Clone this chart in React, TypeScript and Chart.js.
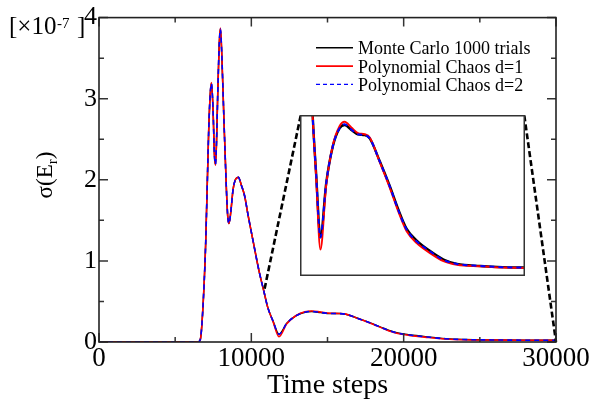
import React, { useEffect, useRef } from "react";
import { Chart, registerables } from "chart.js";

Chart.register(...registerables);

// ---------------- data ----------------
const steps = [
  0, 6000, 6500, 6650, 6800, 7000, 7200, 7300, 7380, 7480, 7580, 7650, 7720,
  7800, 7900, 7970, 8050, 8200, 8360, 8450, 8530, 8650, 8800, 8950, 9150, 9350,
  9560, 9800, 10110, 10500, 10830, 11073, 11431, 11816, 12326, 12916, 13515,
  13962, 14562, 15152, 15751, 16198, 17093, 17988, 18730, 19482, 20376, 21565,
  22755, 23953, 26037, 28000, 30000,
];
const monteCarlo = [
  0, 0, 0, 0.03, 0.35, 1.2, 2.6, 3.05, 3.19, 2.9, 2.3, 2.19, 2.5, 3.1, 3.7,
  3.86, 3.6, 2.75, 1.9, 1.55, 1.46, 1.6, 1.88, 2.0, 2.03, 1.93, 1.8, 1.55, 1.25,
  0.88, 0.62, 0.43, 0.255, 0.096, 0.23, 0.322, 0.367, 0.375, 0.363, 0.352, 0.35,
  0.342, 0.285, 0.223, 0.166, 0.117, 0.088, 0.062, 0.041, 0.03, 0.025, 0.022,
  0.021,
];
const pcD1 = [
  0, 0, 0, 0.03, 0.35, 1.2, 2.6, 3.05, 3.2, 2.9, 2.3, 2.18, 2.5, 3.1, 3.7,
  3.87, 3.6, 2.75, 1.9, 1.55, 1.46, 1.6, 1.88, 2.0, 2.03, 1.93, 1.8, 1.55, 1.25,
  0.88, 0.62, 0.43, 0.248, 0.066, 0.225, 0.324, 0.372, 0.383, 0.369, 0.355, 0.352,
  0.344, 0.283, 0.219, 0.161, 0.111, 0.082, 0.057, 0.037, 0.028, 0.024, 0.021,
  0.02,
];
const pcD2 = [
  0, 0, 0, 0.03, 0.35, 1.2, 2.6, 3.05, 3.19, 2.9, 2.3, 2.19, 2.5, 3.1, 3.7,
  3.86, 3.6, 2.75, 1.9, 1.55, 1.46, 1.6, 1.88, 2.0, 2.03, 1.93, 1.8, 1.55, 1.25,
  0.88, 0.62, 0.43, 0.255, 0.096, 0.23, 0.322, 0.367, 0.377, 0.364, 0.352, 0.35,
  0.342, 0.284, 0.222, 0.164, 0.115, 0.086, 0.061, 0.04, 0.03, 0.025, 0.022,
  0.021,
];

const xTicks = [0, 10000, 20000, 30000];
const xMinorTicks = [5000, 15000, 25000];
const yTicks = [0, 1, 2, 3, 4];
const yMinorTicks = [0.5, 1.5, 2.5, 3.5];
const legendLabels = [
  "Monte Carlo 1000 trials",
  "Polynomial Chaos d=1",
  "Polynomial Chaos d=2",
];
const insetXRange = [10000, 30000];
const insetYRange = [0, 0.4];
const zoomAnchor = [10830, 0.62];

// ---------------- layout / style ----------------
const W = 591;
const H = 404;
const FONT = "'Liberation Serif', 'Times New Roman', serif";
const INSET = { left: 300, top: 115, width: 225, height: 161 };
const COLORS = ["#000000", "#ff0000", "#0000ff"];
const DASHES: number[][] = [[], [], [5, 4]];

const toPoints = (ys: number[]) => steps.map((x, i) => ({ x, y: ys[i] }));

const makeDatasets = (widths: number[]) =>
  [monteCarlo, pcD1, pcD2].map((ys, i) => ({
    label: legendLabels[i],
    data: toPoints(ys),
    borderColor: COLORS[i],
    borderWidth: widths[i],
    borderDash: DASHES[i],
    pointRadius: 0,
    fill: false,
    cubicInterpolationMode: "monotone" as const,
    order: 3 - i,
    clip: 0,
  }));

const decorPlugin = {
  id: "decor",
  afterDatasetsDraw(chart: any) {
    const { ctx, scales } = chart;
    const x = scales.x;
    const y = scales.y;
    ctx.save();
    ctx.strokeStyle = "#000";
    ctx.lineWidth = 2.6;
    ctx.setLineDash([6, 3]);
    ctx.beginPath();
    ctx.moveTo(INSET.left + 0.7, INSET.top + 0.5);
    ctx.lineTo(x.getPixelForValue(zoomAnchor[0]), y.getPixelForValue(zoomAnchor[1]));
    ctx.moveTo(INSET.left + INSET.width - 0.7, INSET.top + 0.5);
    ctx.lineTo(x.getPixelForValue(insetXRange[1]), y.getPixelForValue(insetYRange[0]));
    ctx.stroke();
    ctx.restore();
  },
  afterDraw(chart: any) {
    const { ctx, chartArea: a, scales } = chart;
    const x = scales.x;
    const y = scales.y;
    ctx.save();
    // inward ticks
    ctx.strokeStyle = "#333";
    ctx.lineWidth = 1.5;
    ctx.setLineDash([]);
    ctx.beginPath();
    const xt = (v: number, len: number) => {
      const p = x.getPixelForValue(v);
      ctx.moveTo(p, a.bottom);
      ctx.lineTo(p, a.bottom - len);
      ctx.moveTo(p, a.top);
      ctx.lineTo(p, a.top + len);
    };
    const yt = (v: number, len: number) => {
      const p = y.getPixelForValue(v);
      ctx.moveTo(a.left, p);
      ctx.lineTo(a.left + len, p);
      ctx.moveTo(a.right, p);
      ctx.lineTo(a.right - len, p);
    };
    xTicks.forEach((v) => xt(v, 9));
    xMinorTicks.forEach((v) => xt(v, 5));
    yTicks.forEach((v) => yt(v, 9));
    yMinorTicks.forEach((v) => yt(v, 5));
    ctx.stroke();
    // frame
    ctx.strokeStyle = "#222";
    ctx.lineWidth = 1.6;
    ctx.strokeRect(a.left, a.top, a.right - a.left, a.bottom - a.top);

    // legend
    ctx.font = `18px ${FONT}`;
    ctx.fillStyle = "#000";
    ctx.textAlign = "left";
    ctx.textBaseline = "alphabetic";
    legendLabels.forEach((lab, i) => {
      const base = 54.3 + i * 18.3;
      ctx.beginPath();
      ctx.strokeStyle = COLORS[i];
      ctx.lineWidth = i === 1 ? 1.8 : 1.4;
      ctx.setLineDash(i === 2 ? [4, 3] : []);
      ctx.moveTo(316, base - 6.5);
      ctx.lineTo(353, base - 6.5);
      ctx.stroke();
      ctx.fillText(lab, 358, base);
    });
    ctx.setLineDash([]);

    // x title
    ctx.font = `28px ${FONT}`;
    ctx.textAlign = "center";
    ctx.fillText("Time steps", (a.left + a.right) / 2, 393);

    // multiplier
    ctx.textAlign = "left";
    ctx.font = `25px ${FONT}`;
    ctx.fillText("[\u00d710", 9, 34);
    ctx.font = `15px ${FONT}`;
    ctx.fillText("-7", 57, 28);
    ctx.font = `25px ${FONT}`;
    ctx.fillText("]", 77, 34);

    // y title rotated
    ctx.translate(52, 175);
    ctx.rotate(-Math.PI / 2);
    ctx.font = `23px ${FONT}`;
    const p1 = "\u03c3(E";
    const w1 = ctx.measureText(p1).width;
    ctx.font = `15px ${FONT}`;
    const w2 = ctx.measureText("r").width;
    ctx.font = `23px ${FONT}`;
    const w3 = ctx.measureText(")").width;
    let cx = -(w1 + w2 + w3) / 2;
    ctx.fillText(p1, cx, 0);
    cx += w1;
    ctx.font = `15px ${FONT}`;
    ctx.fillText("r", cx, 5);
    cx += w2;
    ctx.font = `23px ${FONT}`;
    ctx.fillText(")", cx, 0);
    ctx.restore();
  },
};

const insetFrame = {
  id: "insetFrame",
  afterDraw(chart: any) {
    const { ctx } = chart;
    ctx.save();
    ctx.strokeStyle = "#333";
    ctx.lineWidth = 1.5;
    ctx.strokeRect(0.75, 0.75, INSET.width - 1.5, INSET.height - 1.5);
    ctx.restore();
  },
};

export default function App() {
  const mainRef = useRef<HTMLCanvasElement>(null);
  const insetRef = useRef<HTMLCanvasElement>(null);

  useEffect(() => {
    if (!mainRef.current || !insetRef.current) return;
    const main = new Chart(mainRef.current, {
      type: "line",
      data: { datasets: makeDatasets([1.5, 1.6, 1.6]) as any },
      options: {
        animation: false,
        responsive: false,
        events: [],
        layout: { padding: { left: 0, top: 16, right: 35, bottom: 0 } },
        plugins: { legend: { display: false }, tooltip: { enabled: false } },
        scales: {
          x: {
            type: "linear",
            min: 0,
            max: 30000,
            afterBuildTicks: (s: any) => {
              s.ticks = xTicks.map((value) => ({ value }));
            },
            afterFit: (s: any) => {
              s.height = 62;
            },
            ticks: {
              callback: (v: any) => String(v),
              font: { family: FONT, size: 27 },
              color: "#000",
              padding: 1,
              maxRotation: 0,
              autoSkip: false,
            },
            grid: { display: false, drawTicks: false },
            border: { display: false },
          },
          y: {
            type: "linear",
            min: 0,
            max: 4,
            afterBuildTicks: (s: any) => {
              s.ticks = yTicks.map((value) => ({ value }));
            },
            afterFit: (s: any) => {
              s.width = 99;
            },
            ticks: {
              callback: (v: any) => String(v),
              font: { family: FONT, size: 26 },
              color: "#000",
              padding: 2,
            },
            grid: { display: false, drawTicks: false },
            border: { display: false },
          },
        },
      },
      plugins: [decorPlugin],
    });

    const inset = new Chart(insetRef.current, {
      type: "line",
      data: { datasets: makeDatasets([2.4, 2, 2]) as any },
      options: {
        animation: false,
        responsive: false,
        events: [],
        layout: { padding: 0 },
        plugins: { legend: { display: false }, tooltip: { enabled: false } },
        scales: {
          x: { type: "linear", display: false, min: insetXRange[0], max: insetXRange[1] },
          y: { type: "linear", display: false, min: insetYRange[0], max: insetYRange[1] },
        },
      },
      plugins: [insetFrame],
    });

    return () => {
      main.destroy();
      inset.destroy();
    };
  }, []);

  return (
    <div
      style={{
        position: "fixed",
        left: 0,
        top: 0,
        width: W,
        height: H,
        background: "#fff",
      }}
    >
      <canvas ref={mainRef} width={W} height={H} style={{ display: "block" }} />
      <canvas
        ref={insetRef}
        width={INSET.width}
        height={INSET.height}
        style={{
          position: "absolute",
          left: INSET.left,
          top: INSET.top,
          background: "#fff",
          display: "block",
        }}
      />
    </div>
  );
}
